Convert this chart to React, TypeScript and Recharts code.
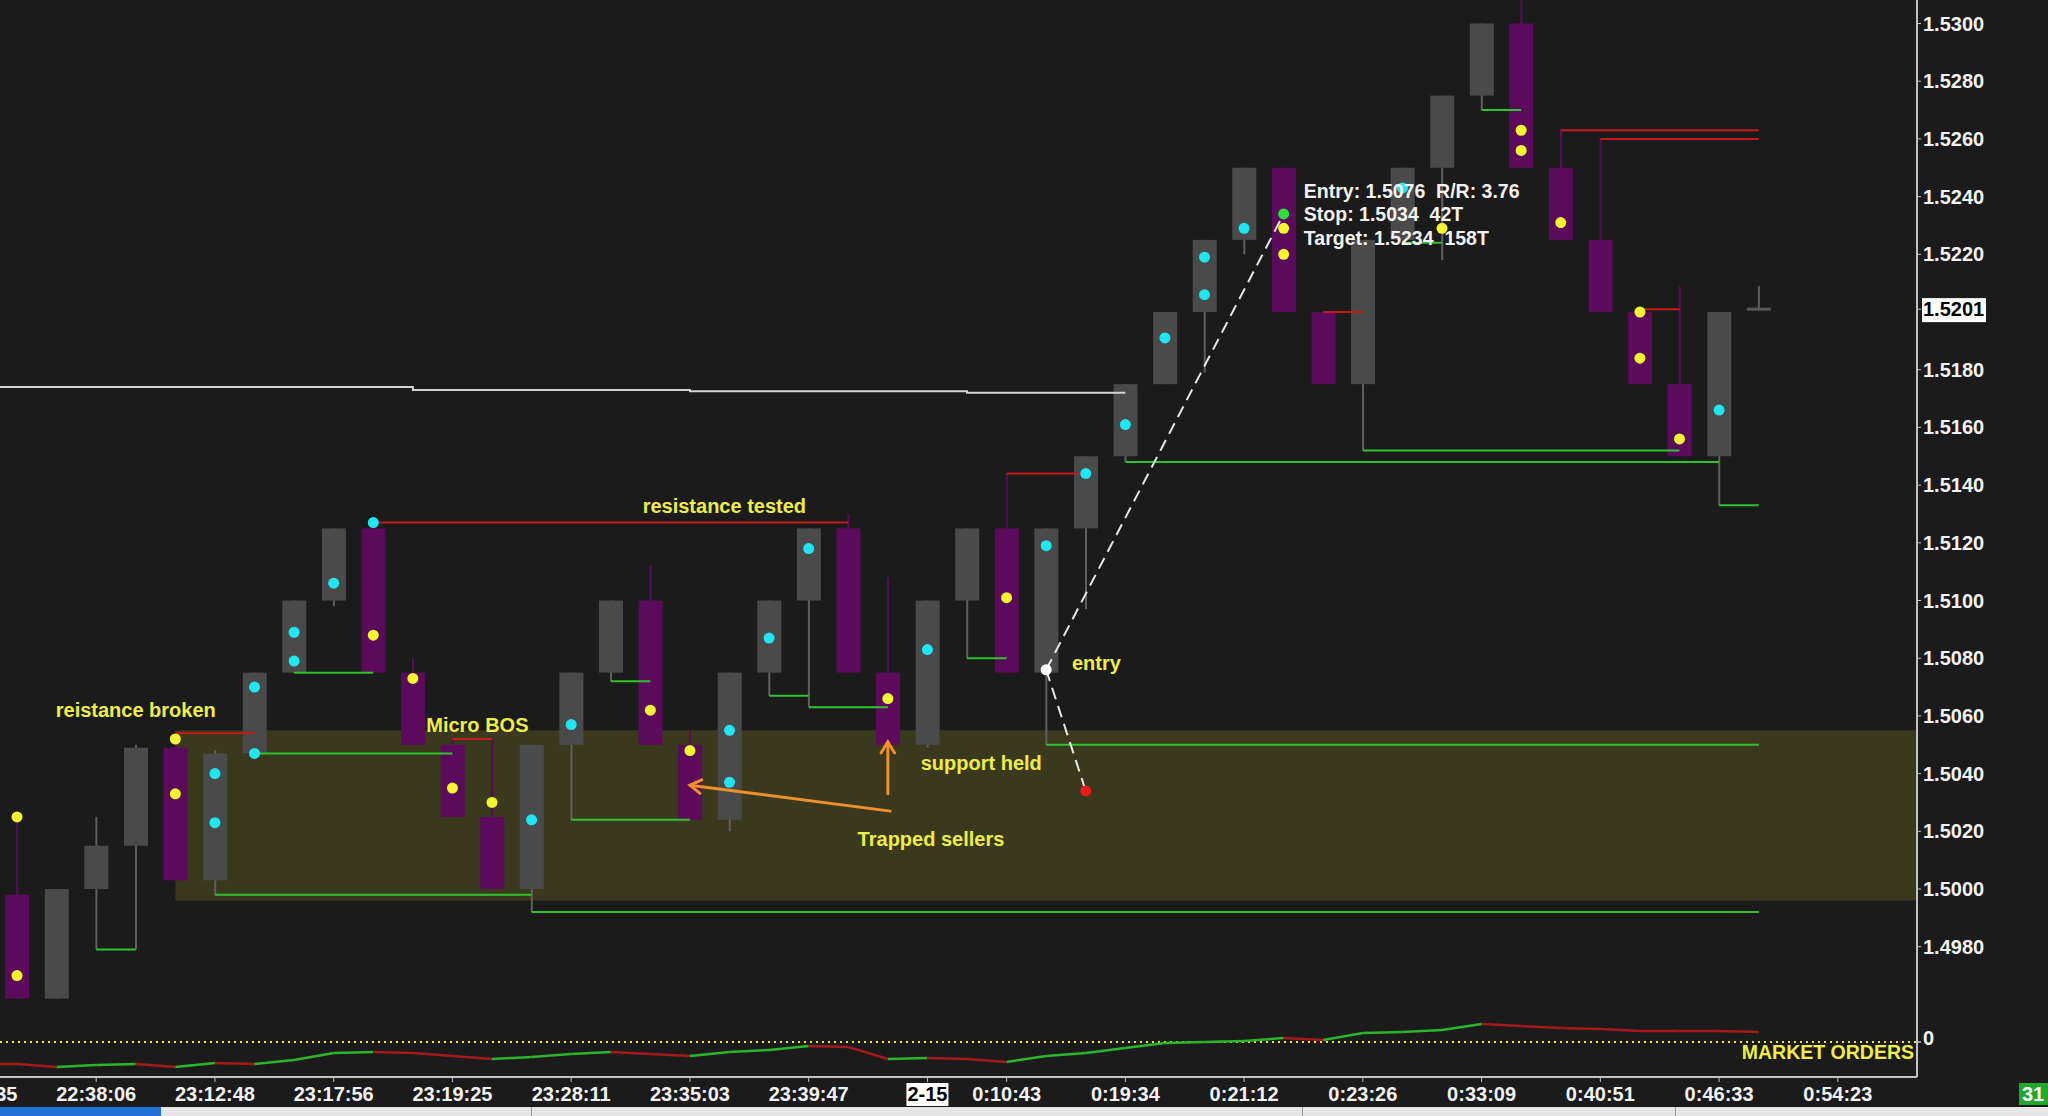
import React from "react";
import {
  ComposedChart,
  Bar,
  Line,
  Scatter,
  XAxis,
  YAxis,
  ReferenceLine,
  ReferenceArea,
  ReferenceDot
} from "recharts";

const FONT = '"Liberation Sans", Arial, sans-serif';
const BG = "#1b1b1b";
const AXIS = "#c4c4c4";
const YELLOW = "#eeee44";

// bar slots (44 = bar still forming)
const barIdx = Array.from({ length: 45 }, (_, k) => k);
const opens = [
  1.4998, 1.4962, 1.5, 1.5015, 1.5049, 1.5003, 1.5047, 1.5075, 1.51, 1.5125, 1.5075, 1.505, 1.5025,
  1.5, 1.505, 1.5075, 1.51, 1.505, 1.5024, 1.5075, 1.51, 1.5125, 1.5075, 1.505, 1.51, 1.5125, 1.5075,
  1.5125, 1.515, 1.5175, 1.52, 1.5225, 1.525, 1.52, 1.5175, 1.5225, 1.525, 1.5275, 1.53, 1.525, 1.5225,
  1.52, 1.5175, 1.515, 1.5201
];
const highs = [
  1.5025, 1.5, 1.5025, 1.505, 1.5054, 1.5048, 1.5075, 1.51, 1.5125, 1.5127, 1.508, 1.5052, 1.5052,
  1.505, 1.5075, 1.51, 1.5112, 1.5055, 1.5075, 1.51, 1.5125, 1.513, 1.5108, 1.51, 1.5125, 1.5144, 1.5125,
  1.515, 1.5175, 1.52, 1.5225, 1.525, 1.525, 1.52, 1.5225, 1.525, 1.5275, 1.53, 1.5308, 1.5263, 1.526,
  1.5201, 1.5209, 1.52, 1.5209
];
const lows = [
  1.4962, 1.4962, 1.4979, 1.4979, 1.5003, 1.4998, 1.5047, 1.5075, 1.5098, 1.5075, 1.505, 1.5025, 1.5,
  1.4992, 1.5024, 1.5072, 1.505, 1.5024, 1.502, 1.5067, 1.5063, 1.5075, 1.505, 1.5049, 1.508, 1.5075,
  1.505, 1.5097, 1.5148, 1.5175, 1.5179, 1.522, 1.52, 1.5175, 1.5152, 1.5224, 1.5218, 1.527, 1.525,
  1.5225, 1.52, 1.5175, 1.515, 1.5133, 1.5201
];
const closes = [
  1.4962, 1.5, 1.5015, 1.5049, 1.5003, 1.5047, 1.5075, 1.51, 1.5125, 1.5075, 1.505, 1.5025, 1.5, 1.505,
  1.5075, 1.51, 1.505, 1.5024, 1.5075, 1.51, 1.5125, 1.5075, 1.505, 1.51, 1.5125, 1.5075, 1.5125, 1.515,
  1.5175, 1.52, 1.5225, 1.525, 1.52, 1.5175, 1.5225, 1.525, 1.5275, 1.53, 1.525, 1.5225, 1.52, 1.5175,
  1.515, 1.52, 1.5201
];

// market orders indicator, one value per bar starting at slot -1
const moIdx = [
  -1, 0, 1, 2, 3, 4, 5, 6, 7, 8, 9, 10, 11, 12, 13, 14, 15, 16, 17, 18, 19, 20, 21, 22, 23, 24, 25, 26,
  27, 28, 29, 30, 31, 32, 33, 34, 35, 36, 37, 38, 39, 40, 41, 42, 43, 44
];
const moValues = [
  -22, -22, -25, -23, -22, -25, -21, -22, -18, -11, -10, -11, -14, -17, -15, -12, -10, -12, -14, -10,
  -8, -4, -5, -17, -16, -17, -20, -14, -11, -6, -1, 0, 1, 4, 2, 9, 10, 12, 18, 16, 14, 13, 11, 11, 11, 10
];

const timeTicks = [-1, 2, 5, 8, 11, 14, 17, 20, 23, 25, 28, 31, 34, 37, 40, 43, 46];
const timeLabels = [
  "22:21:35", "22:38:06", "23:12:48", "23:17:56", "23:19:25", "23:28:11", "23:35:03", "23:39:47",
  "2-15", "0:10:43", "0:19:34", "0:21:12", "0:23:26", "0:33:09", "0:40:51", "0:46:33", "0:54:23"
];
const priceTicks = [
  1.498, 1.5, 1.502, 1.504, 1.506, 1.508, 1.51, 1.512, 1.514, 1.516, 1.518, 1.5201, 1.522, 1.524,
  1.526, 1.528, 1.53
];
const lastPrice = 1.5201;

// [price, from bar, to bar]
const supportLevels: [number, number, number][] = [
  [1.4979, 2, 3], [1.4998, 5, 13], [1.4992, 13, 44], [1.5047, 6, 11], [1.5075, 7, 9],
  [1.5024, 14, 17], [1.5072, 15, 16], [1.5067, 19, 20], [1.5063, 20, 22], [1.508, 24, 25],
  [1.505, 26, 44], [1.5148, 28, 43], [1.5152, 34, 42], [1.5224, 35, 36], [1.527, 37, 38],
  [1.5133, 43, 44]
];
const resistanceLevels: [number, number, number][] = [
  [1.5054, 4, 6], [1.5127, 9, 21], [1.5052, 11, 12], [1.5144, 25, 27], [1.52, 33, 34],
  [1.5263, 39, 44], [1.526, 40, 44], [1.5201, 41, 42]
];
const oldLevelIdx = [-1, 10, 17, 24, 28];
const oldLevelPrice = [1.5174, 1.5173, 1.51725, 1.5172, 1.5172];

// zone
const zoneFrom = 4;
const zoneTo = 48;
const zoneLow = 1.4996;
const zoneHigh = 1.5055;

// dots [bar, price]
const cyanDots: [number, number][] = [
  [5, 1.504], [5, 1.5023], [6, 1.507], [6, 1.5047], [7, 1.5089], [7, 1.5079], [8, 1.5106],
  [9, 1.5127], [13, 1.5024], [14, 1.5057], [18, 1.5055], [18, 1.5037], [19, 1.5087], [20, 1.5118],
  [23, 1.5083], [26, 1.5119], [27, 1.5144], [28, 1.5161], [29, 1.5191], [30, 1.5219], [30, 1.5206],
  [31, 1.5229], [35, 1.5243], [43, 1.5166]
];
const yellowDots: [number, number][] = [
  [0, 1.5025], [0, 1.497], [4, 1.5052], [4, 1.5033], [9, 1.5088], [10, 1.5073], [11, 1.5035],
  [12, 1.503], [16, 1.5062], [17, 1.5048], [22, 1.5066], [25, 1.5101], [32, 1.5229], [32, 1.522],
  [36, 1.5229], [38, 1.5263], [38, 1.5256], [39, 1.5231], [41, 1.52], [41, 1.5184], [42, 1.5156]
];
const entryDot: [number, number] = [26, 1.5076];
const stopDot: [number, number] = [27, 1.5034];
const targetDot: [number, number] = [32, 1.5234];

// orange arrows [fromBar, fromPrice, toBar, toPrice]
const arrows: [number, number, number, number][] = [
  [22.06, 1.5027, 17.0, 1.5036],
  [22.0, 1.5033, 22.0, 1.5051]
];

const noteTexts = ["reistance broken", "Micro BOS", "resistance tested", "support held", "Trapped sellers", "entry"];
const noteIdx = [3.0, 11.63, 17.87, 24.36, 23.09, 27.27];
const notePrice = [1.5062, 1.5057, 1.51328, 1.50437, 1.50175, 1.50782];

const tradeLines = ["Entry: 1.5076  R/R: 3.76", "Stop: 1.5034  42T", "Target: 1.5234  158T"];
const tradeIdx = 32.51;
const tradePrice = 1.52419;

const candles = barIdx.map((i, k) => ({
  i,
  o: opens[k],
  h: highs[k],
  l: lows[k],
  c: closes[k],
  range: [lows[k], highs[k]]
}));

const moSegments = (() => {
  const segs: { data: { i: number; mo: number }[]; color: string }[] = [];
  let color = "#a51a1a";
  for (let k = 1; k < moValues.length; k++) {
    if (moValues[k] > moValues[k - 1]) color = "#2bb52b";
    else if (moValues[k] < moValues[k - 1]) color = "#a51a1a";
    segs.push({
      data: [
        { i: moIdx[k - 1], mo: moValues[k - 1] },
        { i: moIdx[k], mo: moValues[k] }
      ],
      color
    });
  }
  return segs;
})();

const toPts = (list: [number, number][]) => list.map(([i, p]) => ({ i, p }));

const Candle = (props: any) => {
  const { x, y, width, height, payload } = props;
  if (!payload || height == null) return null;
  const { o, h, l, c } = payload;
  const span = h - l || 1e-9;
  const toY = (p: number) => y + ((h - p) / span) * height;
  const up = c >= o;
  const body = up ? "#4a4a4a" : "#5c0b5c";
  const wick = up ? "#5f5f5f" : "#5c0b5c";
  const cx = x + width / 2;
  const top = toY(Math.max(o, c));
  const bot = toY(Math.min(o, c));
  const flat = bot - top < 3;
  return (
    <g>
      <line x1={cx} x2={cx} y1={y} y2={y + height} stroke={wick} strokeWidth={2} />
      <rect
        x={x}
        y={flat ? top - 1.5 : top}
        width={width}
        height={flat ? 3 : bot - top}
        fill={flat ? "#5a5a5a" : body}
      />
    </g>
  );
};

const dotShape = (fill: string) => (p: any) =>
  <circle cx={p.cx} cy={p.cy} r={5.5} fill={fill} />;

const arrowShape = (p: any) => {
  const { x1, y1, x2, y2 } = p;
  const ang = Math.atan2(y2 - y1, x2 - x1);
  const len = 13;
  const a1 = ang + Math.PI - 0.55;
  const a2 = ang + Math.PI + 0.55;
  return (
    <g stroke="#f0902a" strokeWidth={3} fill="none" strokeLinecap="round">
      <line x1={x1} y1={y1} x2={x2} y2={y2} />
      <polyline
        points={`${x2 + len * Math.cos(a1)},${y2 + len * Math.sin(a1)} ${x2},${y2} ${x2 + len * Math.cos(a2)},${y2 + len * Math.sin(a2)}`}
      />
    </g>
  );
};

const noteShape = (text: string) => (p: any) =>
  (
    <text
      x={p.cx}
      y={p.cy}
      dy={7}
      textAnchor="middle"
      fill={YELLOW}
      fontSize={20}
      fontWeight="bold"
      fontFamily={FONT}
    >
      {text}
    </text>
  );

const tradeShape = (p: any) => (
  <text
    x={p.cx}
    y={p.cy}
    fill="#f2f2f2"
    fontSize={19.5}
    fontWeight="bold"
    fontFamily={FONT}
    style={{ whiteSpace: "pre" }}
  >
    {tradeLines.map((t, k) => (
      <tspan key={t} x={p.cx} dy={k === 0 ? 7 : 23.3}>
        {t}
      </tspan>
    ))}
  </text>
);

const zeroShape = (p: any) => (
  <g fontFamily={FONT} fontWeight="bold">
    <line x1={p.cx} x2={p.cx + 4} y1={p.cy} y2={p.cy} stroke={AXIS} strokeWidth={1.5} />
    <text x={p.cx + 6} y={p.cy + 3} fill="#f2f2f2" fontSize={20}>
      0
    </text>
    <text x={p.cx - 3} y={p.cy + 17} textAnchor="end" fill={YELLOW} fontSize={19.5}>
      MARKET ORDERS
    </text>
  </g>
);

const TimeTick = (props: any) => {
  const { x, y, payload } = props;
  const label = timeLabels[timeTicks.indexOf(payload.value)] ?? "";
  const isDate = label === "2-15";
  return (
    <g>
      {isDate && <rect x={x - 21} y={y - 1} width={42} height={23} fill="#ffffff" />}
      <text
        x={x}
        y={y + 17}
        textAnchor="middle"
        fill={isDate ? "#000000" : "#f2f2f2"}
        fontSize={20}
        fontWeight="bold"
        fontFamily={FONT}
      >
        {label}
      </text>
    </g>
  );
};

const PriceTick = (props: any) => {
  const { x, y, payload } = props;
  const v = payload.value as number;
  const isLast = Math.abs(v - lastPrice) < 1e-7;
  return (
    <g>
      {isLast && <rect x={x - 1} y={y - 11} width={64} height={24} fill="#ffffff" />}
      <text
        x={x}
        y={y + 7}
        fill={isLast ? "#000000" : "#f2f2f2"}
        fontSize={20}
        fontWeight="bold"
        fontFamily={FONT}
      >
        {v.toFixed(4)}
      </text>
    </g>
  );
};

export default function App() {
  return (
    <div
      style={{
        position: "fixed",
        left: 0,
        top: 0,
        width: 2048,
        height: 1116,
        overflow: "hidden",
        background: BG
      }}
    >
      <div style={{ position: "absolute", left: -60, top: 0 }}>
        <ComposedChart
          width={2108}
          height={1116}
          data={candles}
          margin={{ top: 0, right: 0, bottom: 0, left: 0 }}
        >
          <XAxis
            dataKey="i"
            type="number"
            domain={[-1.946, 48]}
            allowDataOverflow
            ticks={timeTicks}
            interval={0}
            tick={<TimeTick />}
            tickSize={5}
            height={39}
            axisLine={{ stroke: AXIS, strokeWidth: 2 }}
            tickLine={{ stroke: AXIS }}
          />
          <YAxis
            yAxisId="price"
            orientation="right"
            width={131}
            type="number"
            domain={[1.493484, 1.530815]}
            allowDataOverflow
            ticks={priceTicks}
            interval={0}
            tick={<PriceTick />}
            tickSize={4}
            axisLine={{ stroke: AXIS, strokeWidth: 2 }}
            tickLine={{ stroke: AXIS }}
          />
          <YAxis yAxisId="mo" hide type="number" domain={[-35, 1042]} allowDataOverflow />

          <ReferenceArea
            yAxisId="price"
            x1={zoneFrom}
            x2={zoneTo}
            y1={zoneLow}
            y2={zoneHigh}
            fill="#3a391d"
            fillOpacity={1}
            stroke="none"
          />
          <ReferenceLine
            yAxisId="mo"
            y={0}
            stroke="#e8e830"
            strokeWidth={2}
            strokeDasharray="2 4"
          />
          {moSegments.map((s, k) => (
            <Line
              key={`mo-${k}`}
              yAxisId="mo"
              data={s.data}
              dataKey="mo"
              type="linear"
              stroke={s.color}
              strokeWidth={2.5}
              dot={false}
              activeDot={false}
              isAnimationActive={false}
            />
          ))}
          <Line
            yAxisId="price"
            data={oldLevelIdx.map((i, k) => ({ i, old: oldLevelPrice[k] }))}
            dataKey="old"
            type="stepAfter"
            stroke="#d4d4d4"
            strokeWidth={2}
            dot={false}
            activeDot={false}
            isAnimationActive={false}
          />
          <Bar
            yAxisId="price"
            dataKey="range"
            barSize={24}
            shape={(p: any) => <Candle {...p} />}
            isAnimationActive={false}
          />
          {supportLevels.map(([p, a, b], k) => (
            <ReferenceLine
              key={`sup-${k}`}
              yAxisId="price"
              segment={[{ x: a, y: p }, { x: b, y: p }]}
              stroke="#2ec42e"
              strokeWidth={2}
            />
          ))}
          {resistanceLevels.map(([p, a, b], k) => (
            <ReferenceLine
              key={`res-${k}`}
              yAxisId="price"
              segment={[{ x: a, y: p }, { x: b, y: p }]}
              stroke="#c41c1c"
              strokeWidth={2}
            />
          ))}
          <ReferenceLine
            yAxisId="price"
            segment={[{ x: entryDot[0], y: entryDot[1] }, { x: targetDot[0], y: targetDot[1] }]}
            stroke="#e8e8e8"
            strokeWidth={2}
            strokeDasharray="12 7"
          />
          <ReferenceLine
            yAxisId="price"
            segment={[{ x: entryDot[0], y: entryDot[1] }, { x: stopDot[0], y: stopDot[1] }]}
            stroke="#e8e8e8"
            strokeWidth={2}
            strokeDasharray="12 7"
          />
          {arrows.map(([a, pa, b, pb], k) => (
            <ReferenceLine
              key={`arr-${k}`}
              yAxisId="price"
              segment={[{ x: a, y: pa }, { x: b, y: pb }]}
              shape={arrowShape}
            />
          ))}
          <Scatter yAxisId="price" data={toPts(cyanDots)} dataKey="p" shape={dotShape("#1ee6f2")} isAnimationActive={false} />
          <Scatter yAxisId="price" data={toPts(yellowDots)} dataKey="p" shape={dotShape("#f6f62e")} isAnimationActive={false} />
          <Scatter yAxisId="price" data={toPts([entryDot])} dataKey="p" shape={dotShape("#ffffff")} isAnimationActive={false} />
          <Scatter yAxisId="price" data={toPts([stopDot])} dataKey="p" shape={dotShape("#f01818")} isAnimationActive={false} />
          <Scatter yAxisId="price" data={toPts([targetDot])} dataKey="p" shape={dotShape("#28e03c")} isAnimationActive={false} />
          {noteTexts.map((t, k) => (
            <ReferenceDot
              key={`note-${k}`}
              yAxisId="price"
              x={noteIdx[k]}
              y={notePrice[k]}
              r={0}
              shape={noteShape(t)}
            />
          ))}
          <ReferenceDot yAxisId="price" x={tradeIdx} y={tradePrice} r={0} shape={tradeShape} />
          <ReferenceDot yAxisId="mo" x={48} y={0} r={0} ifOverflow="visible" shape={zeroShape} />
        </ComposedChart>
      </div>
      {/* scrollbar and bar counter */}
      <div style={{ position: "absolute", left: 0, top: 1107, width: 2048, height: 9, background: "#e6e6e6" }} />
      <div style={{ position: "absolute", left: 0, top: 1107, width: 161, height: 9, background: "#1f6fd6" }} />
      <div style={{ position: "absolute", left: 531, top: 1107, width: 1, height: 9, background: "#9a9a9a" }} />
      <div style={{ position: "absolute", left: 1302, top: 1107, width: 1, height: 9, background: "#9a9a9a" }} />
      <div style={{ position: "absolute", left: 1675, top: 1107, width: 1, height: 9, background: "#9a9a9a" }} />
      <div
        style={{
          position: "absolute",
          left: 2019,
          top: 1083,
          width: 34,
          height: 22,
          background: "#1fa82c",
          color: "#ffffff",
          fontFamily: FONT,
          fontWeight: "bold",
          fontSize: 20,
          lineHeight: "22px",
          paddingLeft: 3
        }}
      >
        31
      </div>
    </div>
  );
}
